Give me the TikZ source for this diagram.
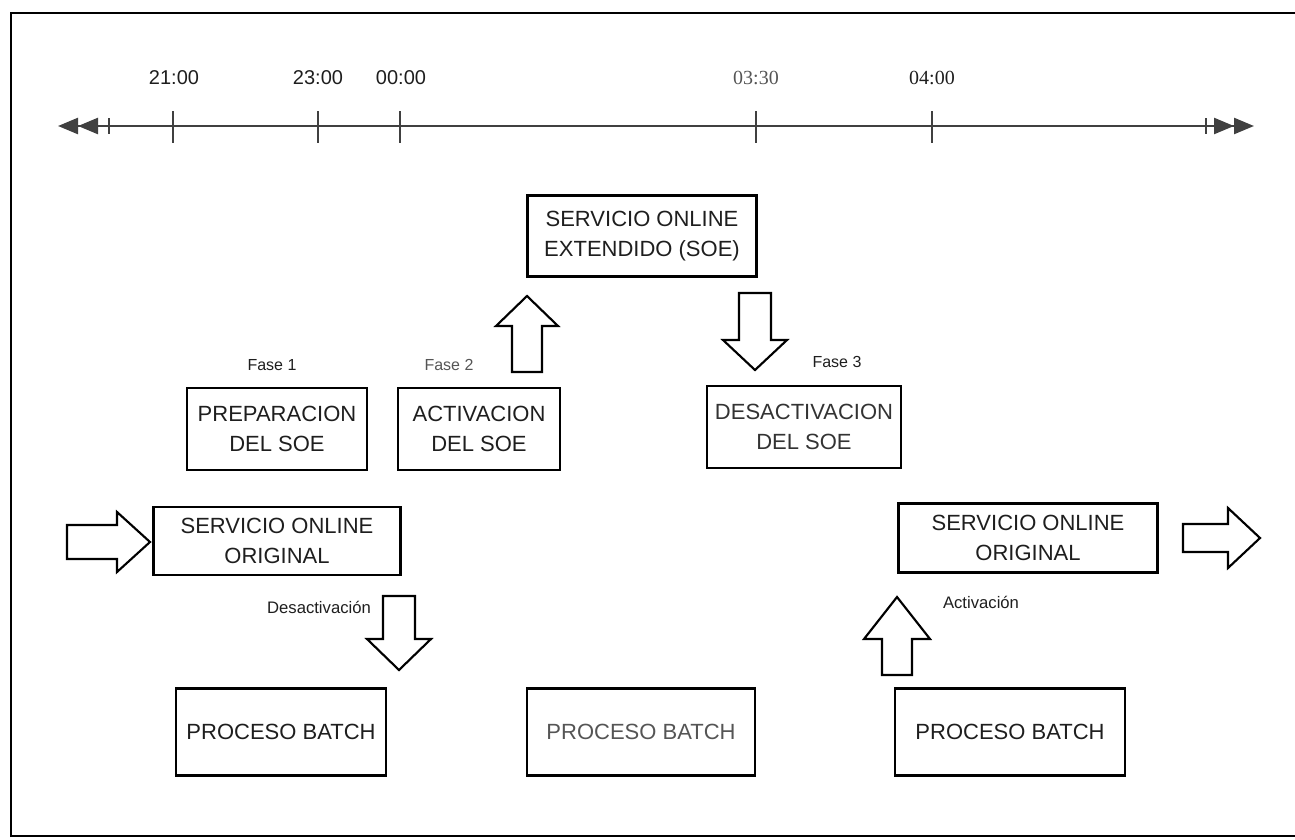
\documentclass[tikz,border=0pt]{standalone}
\usepackage{fontspec}
\setmainfont{Liberation Sans}
\newfontfamily\serifnum{Liberation Serif}
\usetikzlibrary{arrows.meta}
\definecolor{ink}{HTML}{1E1E1E}
\definecolor{soft}{HTML}{555555}
\begin{document}
\begin{tikzpicture}[x=0.75pt,y=-0.75pt,
  box/.style={draw=black,line width=1.9pt,align=center,inner sep=0pt,
    font=\fontsize{16.5}{22}\selectfont,text=ink},
  tlabel/.style={font=\fontsize{15}{17}\selectfont,text=ink},
  small/.style={font=\fontsize{12}{14}\selectfont,text=ink},
  blockarrow/.style={draw=black,line width=1.6pt,fill=white,line join=miter},
  tick/.style={draw=black!75,line width=1.1pt},
  timeline/.style={draw=black!75,line width=1.8pt},
  tip/.style={Triangle[length=15pt,width=12pt]}]
\useasboundingbox (0,0) rectangle (1295,839);

% outer frame
\draw[line width=1.8pt] (11,837) -- (11,13) -- (1295,13);
\draw[line width=1.5pt] (11,836) -- (1295,836);

% time axis
\coordinate (tl) at (58,126);
\coordinate (tr) at (1254,126);
\draw[timeline,{Triangle[length=15pt,width=12pt]Triangle[length=15pt,width=12pt]}-{Triangle[length=15pt,width=12pt]Triangle[length=15pt,width=12pt]}] (tl) -- (tr);
\draw[tick] (109,118) -- (109,134);
\draw[tick] (1206,118) -- (1206,134);
\foreach \x/\name in {173/t21, 318/t23, 400/t00, 756/t0330, 932/t04}{
  \coordinate (\name) at (\x,126);
  \draw[tick] (\x,111) -- (\x,143);
}
\node[tlabel] (l21) at (174,78) {21:00};
\node[tlabel] (l23) at (318,78) {23:00};
\node[tlabel] (l00) at (401,78) {00:00};
\node[tlabel,font=\serifnum\fontsize{15}{17}\selectfont,text=soft] (l0330) at (756,78) {03:30};
\node[tlabel,font=\serifnum\fontsize{15}{17}\selectfont] (l04) at (932,78) {04:00};

% boxes
\node[box,minimum width=229*0.75pt,minimum height=81*0.75pt] (soe) at (642,236) {SERVICIO ONLINE\\EXTENDIDO (SOE)};
\node[box,minimum width=180*0.75pt,minimum height=82*0.75pt] (prep) at (277,429) {PREPARACION\\DEL SOE};
\node[box,minimum width=162*0.75pt,minimum height=82*0.75pt] (act) at (479,429) {ACTIVACION\\DEL SOE};
\node[box,minimum width=194*0.75pt,minimum height=82*0.75pt,text=black!80] (desact) at (804,427) {DESACTIVACION\\DEL SOE};
\node[box,minimum width=247*0.75pt,minimum height=68*0.75pt] (sooL) at (277,541) {SERVICIO ONLINE\\ORIGINAL};
\node[box,minimum width=259*0.75pt,minimum height=69*0.75pt] (sooR) at (1028,538) {SERVICIO ONLINE\\ORIGINAL};
\node[box,minimum width=210*0.75pt,minimum height=87*0.75pt] (pbL) at (281,732) {PROCESO BATCH};
\node[box,minimum width=228*0.75pt,minimum height=87*0.75pt,text=soft] (pbM) at (641,732) {PROCESO BATCH};
\node[box,minimum width=230*0.75pt,minimum height=87*0.75pt] (pbR) at (1010,732) {PROCESO BATCH};

% phase labels
\node[small] (f1) at (272,365) {Fase 1};
\node[small,text=soft] (f2) at (449,365) {Fase 2};
\node[small] (f3) at (837,362) {Fase 3};
\node[small,font=\fontsize{12.5}{14}\selectfont] (desc) at (319,607) {Desactivación};
\node[small,font=\fontsize{12.5}{14}\selectfont] (actv) at (981,602) {Activación};

% block arrows
% up: activation -> extended service
\draw[blockarrow,shift={(527,296)}] (0,0) -- (31,30) -- (15,30) -- (15,76) -- (-15,76) -- (-15,30) -- (-31,30) -- cycle;
% down: extended service -> deactivation
\draw[blockarrow,shift={(755,370)}] (0,0) -- (32,-30) -- (16,-30) -- (16,-77) -- (-16,-77) -- (-16,-30) -- (-32,-30) -- cycle;
% down: original service -> batch
\draw[blockarrow,shift={(399,670)}] (0,0) -- (32,-31) -- (16,-31) -- (16,-74) -- (-16,-74) -- (-16,-31) -- (-32,-31) -- cycle;
% up: batch -> original service
\draw[blockarrow,shift={(897,597)}] (0,0) -- (33,42) -- (15,42) -- (15,78) -- (-15,78) -- (-15,42) -- (-33,42) -- cycle;
% right: into the original service
\draw[blockarrow,shift={(150,542)}] (0,0) -- (-33,30) -- (-33,17) -- (-83,17) -- (-83,-17) -- (-33,-17) -- (-33,-30) -- cycle;
% right: out of the original service
\draw[blockarrow,shift={(1260,538)}] (0,0) -- (-32,30) -- (-32,14) -- (-77,14) -- (-77,-14) -- (-32,-14) -- (-32,-30) -- cycle;
\end{tikzpicture}
\end{document}
